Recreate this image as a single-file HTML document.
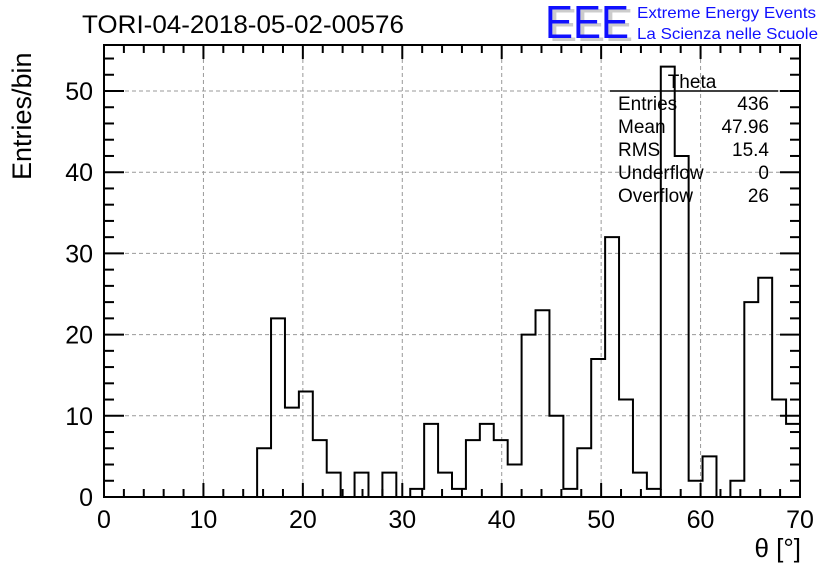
<!DOCTYPE html>
<html><head><meta charset="utf-8"><style>
body{margin:0;background:#fff;width:836px;height:572px;overflow:hidden;font-family:"Liberation Sans",sans-serif}
</style></head><body>
<svg width="836" height="572" xmlns="http://www.w3.org/2000/svg" font-family="Liberation Sans, sans-serif">
<rect width="836" height="572" fill="#fff"/>
<text x="82" y="33" font-size="25" textLength="322" lengthAdjust="spacingAndGlyphs">TORI-04-2018-05-02-00576</text>
<g>
<text x="549" y="41" font-size="46" fill="#ccc" textLength="84" lengthAdjust="spacingAndGlyphs">EEE</text>
<text x="545" y="38" font-size="46" fill="#1010ff" textLength="84" lengthAdjust="spacingAndGlyphs">EEE</text>
<text x="637" y="18" font-size="16" fill="#1010ff" textLength="179" lengthAdjust="spacingAndGlyphs">Extreme Energy Events</text>
<text x="637" y="39" font-size="16" fill="#1010ff" textLength="181" lengthAdjust="spacingAndGlyphs">La Scienza nelle Scuole</text>
</g>
<g id="grid"></g>
<g id="axes"></g>
<path id="hist" fill="none" stroke="#000" stroke-width="2"/>
<g font-size="19">
<line x1="610" y1="91" x2="778" y2="91" stroke="#000" stroke-width="1.5"/>
<text x="692" y="88" text-anchor="middle">Theta</text>
<text x="618" y="110">Entries</text><text x="769" y="110" text-anchor="end">436</text>
<text x="618" y="133">Mean</text><text x="769" y="133" text-anchor="end">47.96</text>
<text x="618" y="156">RMS</text><text x="769" y="156" text-anchor="end">15.4</text>
<text x="618" y="179">Underflow</text><text x="769" y="179" text-anchor="end">0</text>
<text x="618" y="202">Overflow</text><text x="769" y="202" text-anchor="end">26</text>
</g>
<text x="801" y="557" font-size="26" text-anchor="end">θ [°]</text>
<text transform="translate(31,180) rotate(-90)" font-size="27" text-anchor="start">Entries/bin</text>
</svg>
<script>
const binWidth = 1.4;
const counts = [0,0,0,0,0,0,0,0,0,0,0,6,22,11,13,7,3,0,3,0,3,0,1,9,3,1,7,9,7,4,20,23,10,1,6,17,32,12,3,1,53,42,2,5,0,2,24,27,12,9];
const xTicks = [0,10,20,30,40,50,60,70];
const yTicks = [0,10,20,30,40,50];
const X0=104,X1=800,Y0=497,Y1=45;
const xs = v => X0 + (v-0)/70*(X1-X0);
const ys = v => Y0 - v/50*(Y0-91);
const ns="http://www.w3.org/2000/svg";
const grid=document.getElementById('grid'), axes=document.getElementById('axes');
function ln(p,x1,y1,x2,y2,st,w,d){const l=document.createElementNS(ns,'line');l.setAttribute('x1',x1);l.setAttribute('y1',y1);l.setAttribute('x2',x2);l.setAttribute('y2',y2);l.setAttribute('stroke',st);l.setAttribute('stroke-width',w);if(d)l.setAttribute('stroke-dasharray',d);p.appendChild(l);return l;}
function tx(p,x,y,s,a){const t=document.createElementNS(ns,'text');t.setAttribute('x',x);t.setAttribute('y',y);t.setAttribute('font-size',25);t.setAttribute('text-anchor',a);t.textContent=s;p.appendChild(t);return t;}
xTicks.forEach(v=>{if(v>0&&v<70){const g=ln(grid,xs(v),Y1,xs(v),Y0,'#999',1,'4,3');}
 const t=tx(axes,xs(v),528,String(v),'middle');});
yTicks.forEach(v=>{if(v>0){const g=ln(grid,X0,ys(v),X1,ys(v),'#999',1,'4,3');}
 const t=tx(axes,93,ys(v)+9,String(v),'end');});
for(let v=0;v<=70;v+=2){const big=v%10===0;ln(axes,xs(v),Y0,xs(v),Y0-(big?14:8),'#000',2);ln(axes,xs(v),Y1,xs(v),Y1+(big?14:8),'#000',2);}
for(let v=0;ys(v)>=Y1;v+=2){const big=v%10===0;ln(axes,X0,ys(v),X0+(big?20:10),ys(v),'#000',2);ln(axes,X1,ys(v),X1-(big?20:10),ys(v),'#000',2);}
const fr=document.createElementNS(ns,'rect');fr.setAttribute('x',X0);fr.setAttribute('y',Y1);fr.setAttribute('width',X1-X0);fr.setAttribute('height',Y0-Y1);fr.setAttribute('fill','none');fr.setAttribute('stroke','#000');fr.setAttribute('stroke-width',2);axes.appendChild(fr);
let d='M'+xs(0)+' '+ys(0);
counts.forEach((c,i)=>{d+=' L'+xs(i*binWidth)+' '+ys(c)+' L'+xs((i+1)*binWidth)+' '+ys(c);});
d+=' L'+xs(counts.length*binWidth)+' '+ys(0);
document.getElementById('hist').setAttribute('d',d);
</script>
</body></html>
